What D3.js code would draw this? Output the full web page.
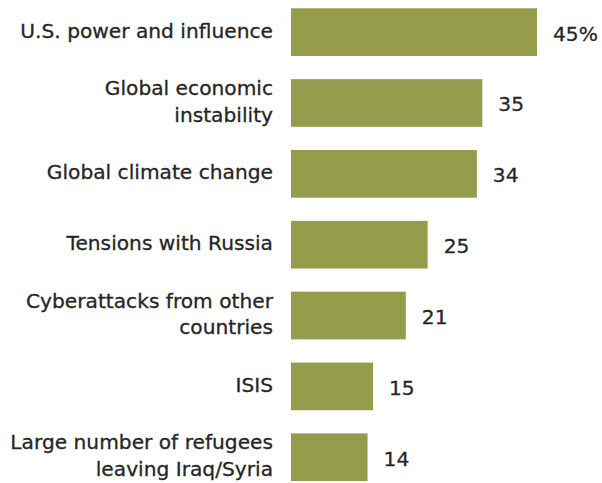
<!DOCTYPE html>
<html>
<head>
<meta charset="utf-8">
<script src="https://cdn.jsdelivr.net/npm/d3@7"></script>
<style>
  body { margin: 0; background: #fff; }
  svg { display: block; }
</style>
</head>
<body>
<div id="chart"></div>
<script>
// labels (one entry per line) and values, top to bottom
const categories = [
    ["U.S. power and influence"],
    ["Global economic", "instability"],
    ["Global climate change"],
    ["Tensions with Russia"],
    ["Cyberattacks from other", "countries"],
    ["ISIS"],
    ["Large number of refugees", "leaving Iraq/Syria"]
];
const values = [45, 35, 34, 25, 21, 15, 14];
const valueLabels = ["45%", "35", "34", "25", "21", "15", "14"];

const width = 602, height = 483;
const barLeft = 291;
const labelRight = 273;
const fontSize = 20.2;
const lineGap = 26.7;

const svg = d3.select("#chart").append("svg")
    .attr("width", width)
    .attr("height", height);

// band scale: step of ~71px, bars about 48px tall
const y = d3.scaleBand()
    .domain(d3.range(values.length))
    .range([-3.28, 492.67])
    .paddingInner(0.327)
    .paddingOuter(0.1635);

const x = d3.scaleLinear()
    .domain([0, 45])
    .range([barLeft, 537]);

const rows = svg.selectAll("g.row")
    .data(values)
    .join("g")
    .attr("class", "row");

rows.append("rect")
    .attr("x", x(0))
    .attr("y", (d, i) => y(i))
    .attr("width", d => x(d) - x(0))
    .attr("height", y.bandwidth())
    .style("fill", "#959c4b");

rows.append("text")
    .attr("x", d => x(d) + 16)
    .attr("y", (d, i) => y(i) + y.bandwidth() / 2 + 1.5)
    .attr("dominant-baseline", "central")
    .style("font-family", "DejaVu Sans")
    .style("font-size", fontSize + "px")
    .style("fill", "#262626")
    .style("stroke", "#262626")
    .style("stroke-width", 0.3)
    .text((d, i) => valueLabels[i]);

// category labels, right aligned, multi-line centred a little above the bar middle
rows.each(function(d, i) {
    const lines = categories[i];
    const cy = y(i) + y.bandwidth() / 2 - 1.5;
    const t = d3.select(this).append("text")
        .attr("text-anchor", "end")
        .style("font-family", "DejaVu Sans")
        .style("font-size", fontSize + "px")
        .style("fill", "#262626")
        .style("stroke", "#262626")
        .style("stroke-width", 0.3);
    lines.forEach((line, k) => {
        t.append("tspan")
            .attr("x", labelRight)
            .attr("y", cy + (k - (lines.length - 1) / 2) * lineGap)
            .attr("dominant-baseline", "central")
            .text(line);
    });
});
</script>
</body>
</html>
